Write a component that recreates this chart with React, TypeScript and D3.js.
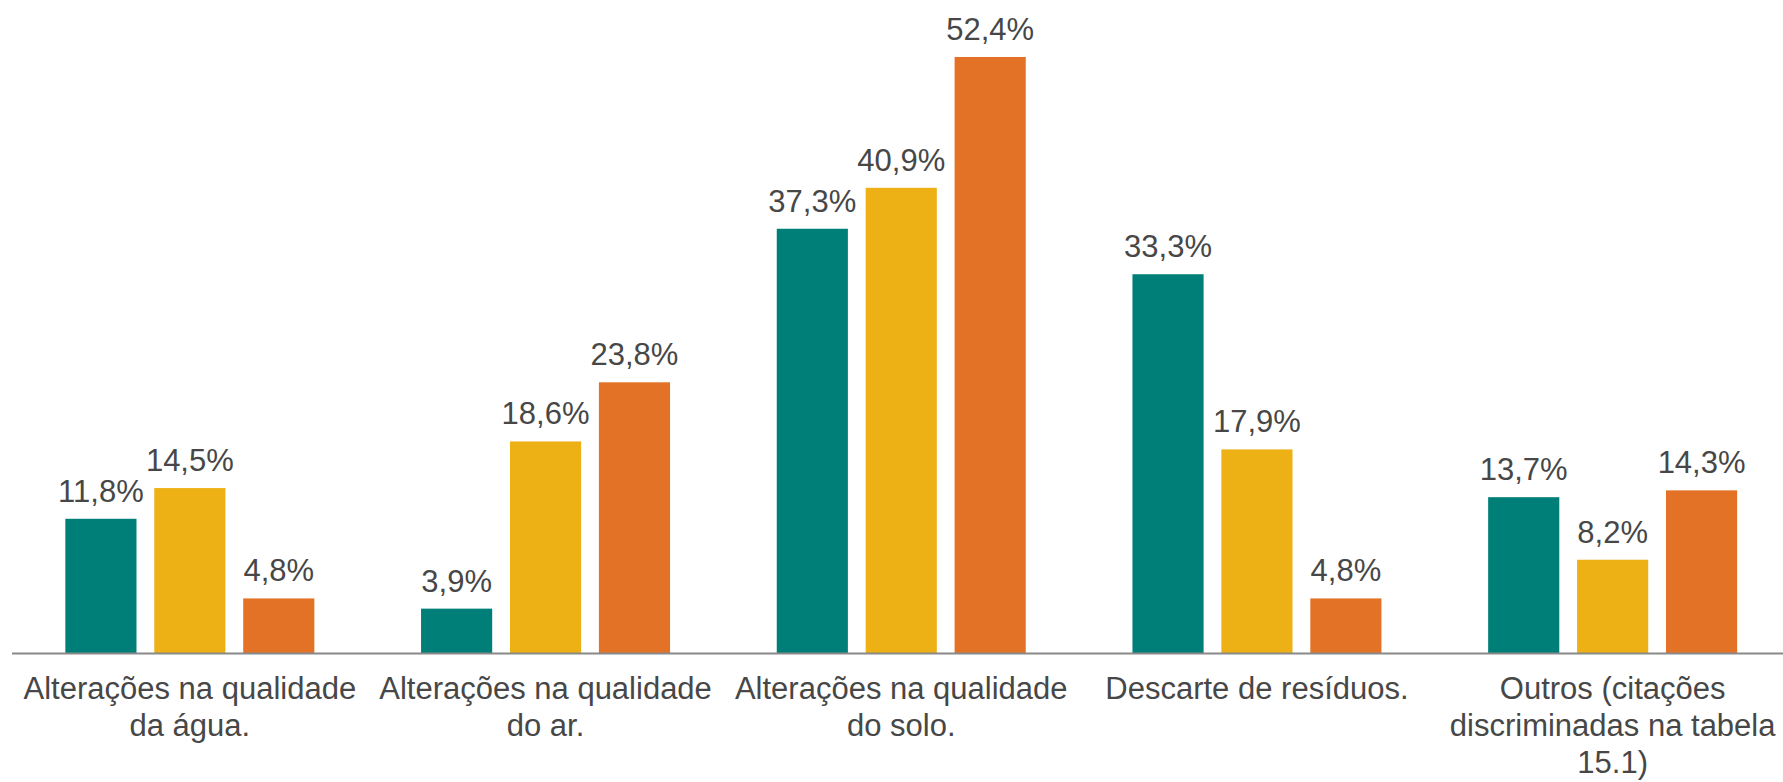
import * as d3 from "d3";

const width = 1783;
const height = 782;
const marginLeft = 12;
const axisY = 653;

// categorias e séries (valores em %)
const categories = [
  "Alterações na qualidade\nda água.",
  "Alterações na qualidade\ndo ar.",
  "Alterações na qualidade\ndo solo.",
  "Descarte de resíduos.",
  "Outros (citações\ndiscriminadas na tabela\n15.1)",
];
const seriesA = [11.8, 3.9, 37.3, 33.3, 13.7];
const seriesB = [14.5, 18.6, 40.9, 17.9, 8.2];
const seriesC = [4.8, 23.8, 52.4, 4.8, 14.3];
const colors = ["#007F78", "#EDB116", "#E37226"];

const fmt = (v: number) => v.toFixed(1).replace(".", ",") + "%";

const App = () => {
  const series = [seriesA, seriesB, seriesC];

  const xScale = d3
    .scaleBand<number>()
    .domain(categories.map((_, i) => i))
    .range([marginLeft, marginLeft + 5 * 355.7]);

  const xInner = d3
    .scaleBand<number>()
    .domain([0, 1, 2])
    .range([0, 249])
    .paddingInner(0.2);

  const yScale = d3.scaleLinear().domain([0, 52.4]).range([axisY, 57]);

  const groupOffset = (xScale.bandwidth() - 249) / 2;

  return (
    <svg
      width={width}
      height={height}
      viewBox={`0 0 ${width} ${height}`}
      style={{ position: "absolute", left: 0, top: 0, background: "#fff" }}
      fontFamily="'Liberation Sans', Arial, sans-serif"
    >
      {categories.map((cat, i) => {
        const gx = (xScale(i) ?? 0) + groupOffset;
        return (
          <g key={cat} className="group">
            {series.map((s, j) => {
              const x = gx + (xInner(j) ?? 0);
              const y = yScale(s[i]);
              return (
                <g key={j}>
                  <rect
                    x={x}
                    y={y}
                    width={xInner.bandwidth()}
                    height={axisY - y}
                    fill={colors[j]}
                  />
                  <text
                    x={x + xInner.bandwidth() / 2}
                    y={y - 17}
                    textAnchor="middle"
                    fontSize={31}
                    fill="#474747"
                  >
                    {fmt(s[i])}
                  </text>
                </g>
              );
            })}
          </g>
        );
      })}
      <line
        x1={marginLeft}
        x2={width}
        y1={axisY + 0.5}
        y2={axisY + 0.5}
        stroke="#898989"
        strokeWidth={2}
      />
      <g className="x-labels">
        {categories.map((cat, i) => (
          <text
            key={cat}
            x={(xScale(i) ?? 0) + xScale.bandwidth() / 2}
            y={699}
            textAnchor="middle"
            fontSize={31}
            fill="#474747"
          >
            {cat.split("\n").map((line, k) => (
              <tspan
                key={k}
                x={(xScale(i) ?? 0) + xScale.bandwidth() / 2}
                dy={k === 0 ? 0 : 37}
              >
                {line}
              </tspan>
            ))}
          </text>
        ))}
      </g>
    </svg>
  );
};

export default App;
